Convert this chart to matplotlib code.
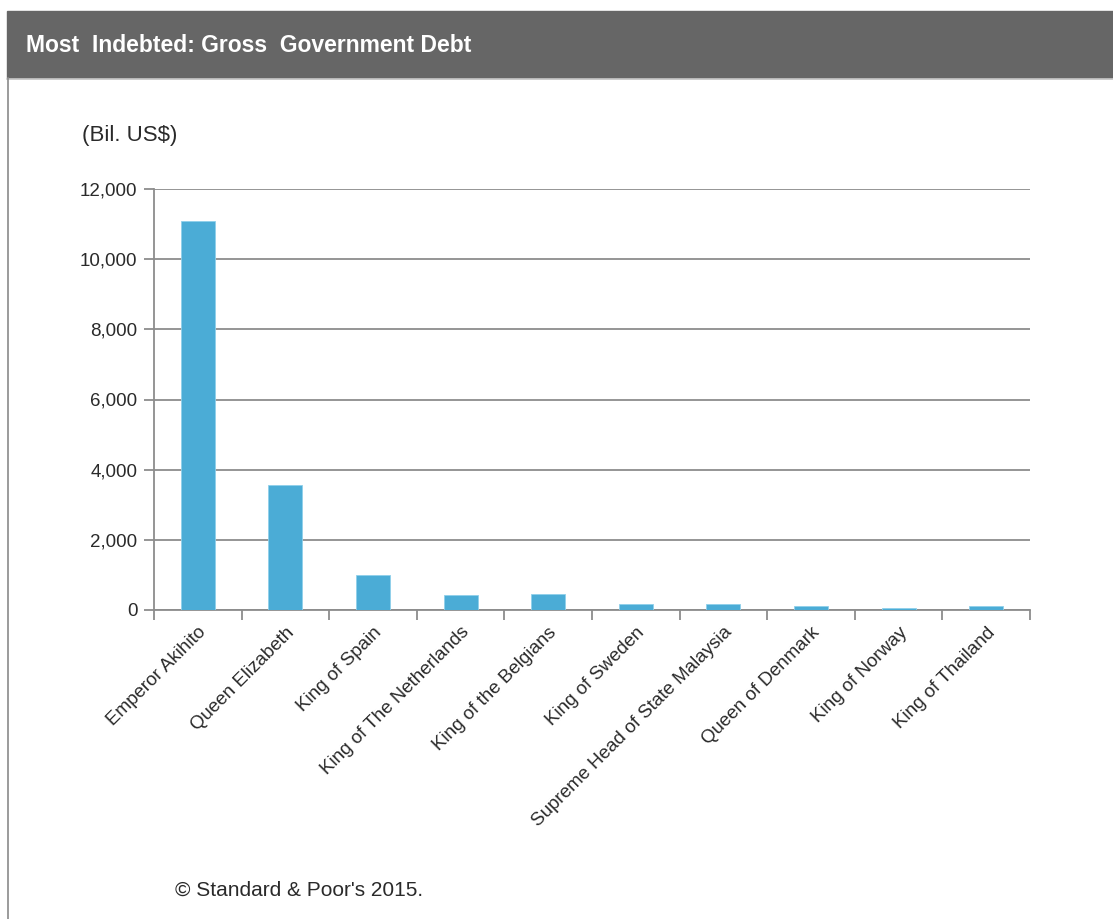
import numpy as np
import matplotlib
matplotlib.use("Agg")
import matplotlib.pyplot as plt
from matplotlib.patches import Rectangle
from matplotlib.lines import Line2D

monarchs = [
    "Emperor Akihito",
    "Queen Elizabeth",
    "King of Spain",
    "King of The Netherlands",
    "King of the Belgians",
    "King of Sweden",
    "Supreme Head of State Malaysia",
    "Queen of Denmark",
    "King of Norway",
    "King of Thailand",
]
debt_bil_usd = [11100, 3570, 990, 420, 470, 185, 180, 125, 70, 125]
y_ticks = [0, 2000, 4000, 6000, 8000, 10000, 12000]

W, H = 1113, 919
plt.rcParams["font.family"] = ["Liberation Sans", "DejaVu Sans"]

fig = plt.figure(figsize=(W / 100, H / 100), dpi=100)


def fx(px):
    return px / W


def fy(py):
    return 1 - py / H


# header bar and frame
fig.patches.append(Rectangle((fx(7), fy(78)), 1 - fx(7), fy(11) - fy(78),
                             transform=fig.transFigure, color="#666666", zorder=0))
fig.lines.append(Line2D([fx(7), 1], [fy(78.5), fy(78.5)], transform=fig.transFigure,
                        color="#c8c8c8", lw=1.2))
fig.lines.append(Line2D([fx(7.5), fx(7.5)], [fy(78), 0], transform=fig.transFigure,
                        color="#8a8a8a", lw=1.2))
fig.text(fx(26), fy(46), "Most  Indebted: Gross  Government Debt", color="white",
         fontsize=16.5, fontweight="bold", va="center", ha="left",
         family=["Liberation Sans Narrow", "Liberation Sans", "DejaVu Sans"])

fig.text(fx(82), fy(136), "(Bil. US$)", fontsize=16, va="center", ha="left", color="#2a2a2a")
fig.text(fx(175), fy(890), "\u00a9 Standard & Poor's 2015.", fontsize=15, va="center",
         ha="left", color="#2a2a2a")

ax = fig.add_axes([fx(154), fy(610), fx(1030) - fx(154), fy(189) - fy(610)])
x = np.arange(len(monarchs))
ax.bar(x, debt_bil_usd, width=0.39, color="#4bacd6", edgecolor="#8fd0ea", linewidth=0.6,
       zorder=3)

ax.set_xlim(-0.5, len(monarchs) - 0.5)
ax.set_ylim(0, 12000)
ax.set_yticks(y_ticks)
ax.set_yticklabels([f"{v:,}" for v in y_ticks], fontsize=13.5, color="#2a2a2a")
ax.yaxis.grid(True, color="#8c8c8c", lw=1.3, zorder=1)
ax.set_axisbelow(True)

ax.set_xticks(x)
ax.set_xticklabels(monarchs, rotation=45, ha="right", rotation_mode="anchor",
                   fontsize=13.5, color="#2a2a2a")
ax.set_xticks(np.arange(-0.5, len(monarchs)), minor=True)
ax.tick_params(axis="x", which="major", length=0, pad=10)
ax.tick_params(axis="x", which="minor", length=7, width=1.3, color="#8c8c8c")
ax.tick_params(axis="y", length=7, width=1.3, color="#8c8c8c", pad=5)

for side in ["top", "right"]:
    ax.spines[side].set_visible(False)
for side in ["left", "bottom"]:
    ax.spines[side].set_color("#8c8c8c")
    ax.spines[side].set_linewidth(1.3)

fig.savefig("out.png", dpi=100, facecolor="white")
